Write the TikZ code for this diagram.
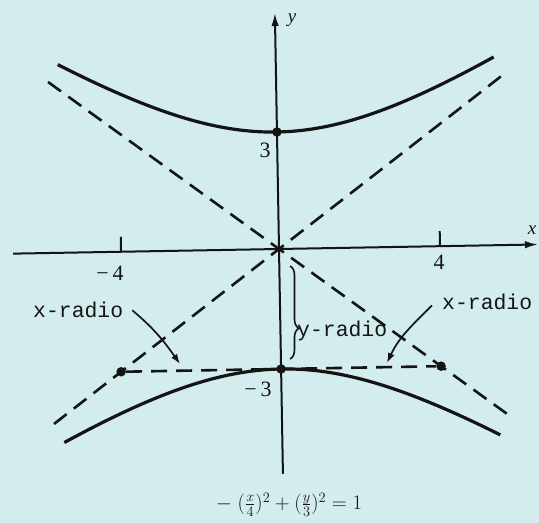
\documentclass[tikz,border=0pt]{standalone}
\usepackage{fontspec}
\setmainfont{Liberation Serif}
\newfontfamily\typew{Liberation Mono}
\usetikzlibrary{arrows.meta,decorations.pathreplacing}
\definecolor{bgc}{RGB}{211,236,238}
\definecolor{ink}{RGB}{20,20,20}
\begin{document}
\begin{tikzpicture}[x=1bp,y=1bp,
  curve/.style={ink, line width=3.2bp},
  axisline/.style={ink, line width=2bp},
  dashline/.style={ink, line width=2.6bp, dash pattern=on 16bp off 9bp},
  dot/.style={circle, fill=ink, inner sep=0pt, minimum size=9.5bp},
  ptr/.style={ink, line width=1.7bp, -{Latex[length=10bp,width=7bp]}},
  axtip/.style={-{Latex[length=13bp,width=7.5bp]}},
  num/.style={font=\fontsize{22}{22}\selectfont, inner sep=0pt, text=ink},
  lab/.style={font=\typew\fontsize{21.5}{22}\selectfont, inner sep=0pt, anchor=base west, text=ink},
  axlab/.style={font=\fontsize{19}{19}\selectfont\itshape, inner sep=0pt, text=ink},
  bracestyle/.style={ink, line width=1.6bp, decorate, decoration={brace, amplitude=9bp, aspect=0.67}},
]
\fill[bgc] (0,0) rectangle (539,523);
\begin{scope}[shift={(279,274)}, rotate=1]
  \coordinate (xl) at (-266,0);
  \coordinate (xr) at (259,0);
  \coordinate (yt) at (0,236);
  \coordinate (yb) at (0,-225);
  \coordinate (t1a) at (-158,0); \coordinate (t1b) at (-158,15);
  \coordinate (t2a) at (161,0); \coordinate (t2b) at (161,15);
  \coordinate (a1) at (-228,-171);
  \coordinate (a2) at (228,171);
  \coordinate (a3) at (-228,171);
  \coordinate (a4) at (228,-171);
  \draw[axisline, axtip] (xl) -- (xr);
  \draw[axisline, axtip] (yb) -- (yt);
  \draw[axisline] (t1a) -- (t1b);
  \draw[axisline] (t2a) -- (t2b);
  \draw[dashline] (a1) -- (a2);
  \draw[dashline] (a3) -- (a4);
  \draw[curve] plot[domain=-218:218, samples=61, smooth] (\x, {117*sqrt(1+(\x/173)^2)});
  \draw[curve] plot[domain=-218:218, samples=61, smooth] (\x, {-120*sqrt(1+(\x/178)^2)});
  \node[dot] (vt) at (0,117) {};
  \node[dot] (vb) at (0,-120) {};
  \node[dot] (dl) at (-160,-120) {};
  \node[dot] (dr) at (160,-120) {};
  \draw[dashline] (dl) -- (dr);
\end{scope}
\node[axlab] (ylab) at (292,503) {y};
\node[axlab] (xlab) at (532,293) {x};
\node[num] (n3) at (265,373) {3};
\node[num] (nm3) at (258,134) {−\hspace{4bp}3};
\node[num] (nm4) at (110,250) {−\hspace{4bp}4};
\node[num] (n4) at (439,261) {4};
\node[lab] (lxr) at (33,205) {x-radio};
\node[lab] (rxr) at (442,213) {x-radio};
\node[lab] (yr) at (297,186) {y-radio};
\coordinate (tl) at (180,159);
\coordinate (tr) at (387,160);
\coordinate (bt) at (290,257);
\coordinate (bb) at (290,164);
\draw[ptr] ([shift={(9bp,0bp)}]lxr.east) to[out=-40,in=125] (tl);
\draw[ptr] ([shift={(-10bp,-3bp)}]rxr.west) to[out=-135,in=65] (tr);
\draw[bracestyle] (bt) -- (bb);
\node[text=ink, font=\fontsize{22}{22}\selectfont] (eq) at (289,18) {$-\;(\frac{x}{4})^2+(\frac{y}{3})^2=1$};
\end{tikzpicture}
\end{document}
